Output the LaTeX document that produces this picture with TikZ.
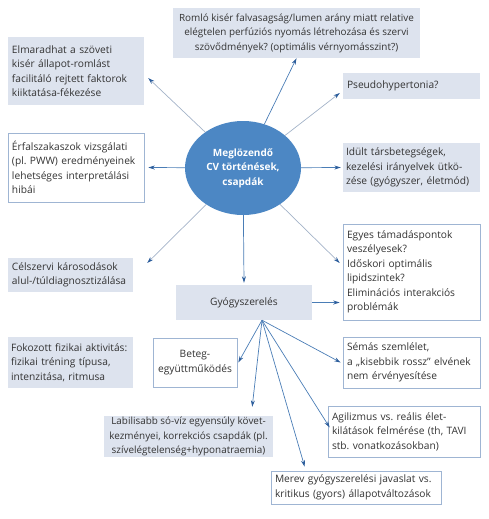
\documentclass[tikz,border=0pt]{standalone}
\usepackage{fontspec}
\setmainfont{Open Sans}
\usetikzlibrary{arrows.meta,calc,shapes.geometric}
\definecolor{boxfill}{HTML}{DDE3EE}
\definecolor{boxline}{HTML}{9FB5D3}
\definecolor{ellfill}{HTML}{4C87C4}
\definecolor{arrblue}{HTML}{4A7DB6}
\definecolor{arrgray}{HTML}{A3B3C8}
\definecolor{tipblue}{HTML}{2D5E9C}
\definecolor{txt}{HTML}{333333}
\frenchspacing
\begin{document}
\begin{tikzpicture}[x=1pt,y=-1pt,
 every node/.style={font=\fontsize{10.2}{14.5}\selectfont, text=txt},
 fillbox/.style={fill=boxfill, inner xsep=4pt, inner ysep=0pt, align=left},
 linebox/.style={fill=white, draw=boxline, line width=0.6pt, inner xsep=4pt, inner ysep=0pt, align=left},
 conn/.style={draw=arrblue, line width=0.7pt, -{Stealth[length=6.5pt,width=4pt,color=tipblue]}},
 connlight/.style={conn, draw=arrgray}]
\useasboundingbox (0,0) rectangle (488,519);

\node[fillbox, align=center, inner xsep=0pt, minimum width=247pt, minimum height=50pt,
 font=\fontsize{9.9}{14.5}\selectfont] (romlo) at (296.5,33)
 {Romló kisér falvasagság/lumen arány miatt relative\\elégtelen perfúziós nyomás létrehozása és szervi\\szövődmények? (optimális vérnyomásszint?)};
\node[fillbox, text width=128pt, minimum height=68pt] (elmar) at (76,71)
 {Elmaradhat a szöveti\\kisér állapot-romlást\\facilitáló rejtett faktorok\\kiiktatása-fékezése};
\node[fillbox, text width=129pt, minimum height=26pt] (pseudo) at (411.5,86)
 {Pseudohypertonia?};
\node[linebox, text width=128pt, minimum height=69pt] (erfal) at (76,167.5)
 {Érfalszakaszok vizsgálati\\(pl. PWW) eredményeinek\\lehetséges interpretálási\\hibái};
\node[fillbox, text width=131pt, inner xsep=3pt, minimum height=49pt] (idult) at (411.5,167.5)
 {Idült társbetegségek,\\kezelési irányelvek ütkö-\\zése (gyógyszer, életmód)};
\node[linebox, text width=129pt, minimum height=96pt] (egyes) at (411.5,272)
 {Egyes támadáspontok\\veszélyesek?\\Időskori optimális\\lipidszintek?\\Eliminációs interakciós\\problémák};
\node[fillbox, text width=117pt, minimum height=34pt] (celsz) at (70.5,275)
 {Célszervi károsodások\\alul-/túldiagnosztizálása};
\node[fillbox, align=center, text width=128pt, minimum height=35pt] (gyogy) at (244,302.5)
 {Gyógyszerelés};
\node[linebox, align=center, text width=76pt, minimum height=49pt] (beteg) at (195,362.5)
 {Beteg-\\együttműködés};
\node[fillbox, text width=119pt, inner xsep=3pt, minimum height=51pt] (fokoz) at (70.5,362.5)
 {Fokozott fizikai aktivitás:\\fizikai tréning típusa,\\intenzitása, ritmusa};
\node[fillbox, align=center, inner xsep=0pt, minimum width=169pt, minimum height=41pt,
 font=\fontsize{9.9}{14.5}\selectfont] (labil) at (188.5,436.5)
 {Labilisabb só-víz egyensúly követ-\\kezményei, korrekciós csapdák (pl.\\szívelégtelenség+hyponatraemia)};
\node[linebox, text width=129pt, minimum height=51pt] (semas) at (411.5,362.5)
 {Sémás szemlélet,\\a „kisebbik rossz” elvének\\nem érvényesítése};
\node[linebox, text width=144pt, minimum height=51pt] (agil) at (404,431.5)
 {Agilizmus vs. reális élet-\\kilátások felmérése (th, TAVI\\stb. vonatkozásokban)};
\node[linebox, text width=162pt, minimum height=33pt] (merev) at (356,487.5)
 {Merev gyógyszerelési javaslat vs.\\kritikus (gyors) állapotváltozások};

\node[ellipse, fill=ellfill, minimum width=116pt, minimum height=94pt, inner sep=0pt,
 align=center, text=white, font=\fontsize{10}{14.5}\selectfont\bfseries] (ell) at (243,168)
 {Meglözendő\\CV történések,\\csapdák};

% connectors from the ellipse
\draw[conn] (ell) -- (romlo.south);
\draw[connlight] (ell) -- ($(elmar.east)+(4,7)$);
\draw[connlight] (ell) -- ($(pseudo.west)+(-3,7)$);
\draw[conn] (ell) -- ($(erfal.east)+(4,0)$);
\draw[conn] (ell) -- ($(idult.west)+(-2,0)$);
\draw[connlight] (ell) -- ($(egyes.west)+(-3,-9)$);
\draw[connlight] (ell) -- ($(celsz.east)+(14,-12)$);
\draw[conn] (ell) -- ($(gyogy.north)+(0,-2)$);

% from Gyogyszereles
\draw[conn] (gyogy.east) -- ($(egyes.west |- gyogy.east)+(-3,0)$);
\coordinate (fan) at ($(gyogy.south)+(18,0)$);
\draw[conn] (fan) -- ($(beteg.east)+(1,0)$);
\draw[conn] (fan) -- ($(labil.north east)+(-21,-9)$);
\draw[conn] (fan) -- ($(semas.west)+(-2,0)$);
\draw[conn] (fan) -- ($(agil.west)+(2,-4)$);
\draw[conn] (fan) -- ($(merev.north west)+(34,-4)$);
\end{tikzpicture}
\end{document}
